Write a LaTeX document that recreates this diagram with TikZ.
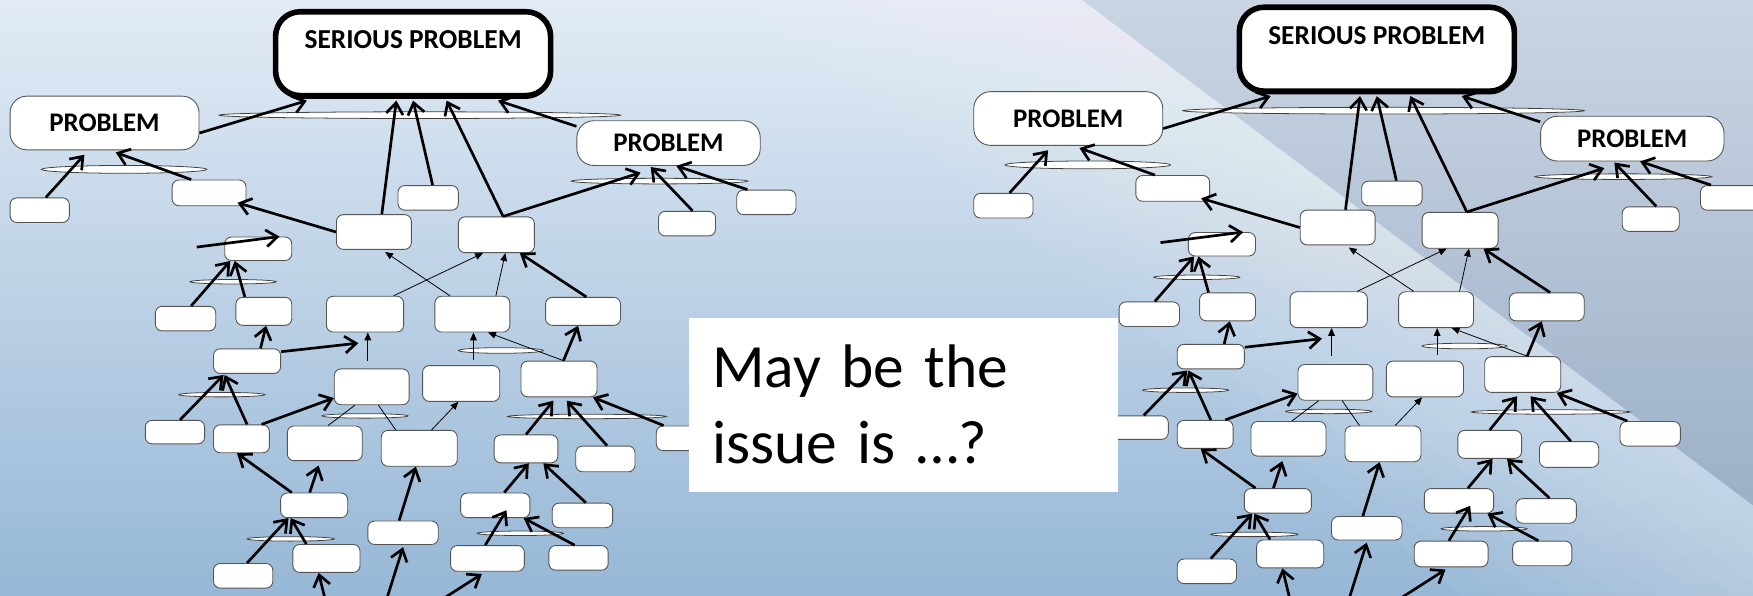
\documentclass[tikz,border=0pt]{standalone}
\usepackage{fontspec}
\setmainfont{Carlito}
\usepackage{xcolor}
\usetikzlibrary{arrows.meta,shapes.geometric,shadows}
\definecolor{bgtop}{RGB}{226,235,245}
\definecolor{bgbottom}{RGB}{150,183,214}
\definecolor{slatetop}{RGB}{202,213,227}
\definecolor{slatebottom}{RGB}{156,176,200}
\definecolor{boxline}{RGB}{85,85,85}

\tikzset{
    premise/.style 2 args={draw=boxline, fill=white, rounded corners=6pt, line width=0.8pt, inner sep=0pt, minimum width=#1, minimum height=#2},
    problem/.style 2 args={premise={#1}{#2}, rounded corners=15pt, font=\fontsize{24}{28}\selectfont\bfseries},
    joint/.style 2 args={ellipse, draw=black!75, fill=white, line width=0.7pt, inner sep=0pt, minimum width=#1, minimum height=#2}
}

\begin{document}
\begin{tikzpicture}[x=1pt, y=-1pt,
    serious/.style={draw=black, fill=white, line width=5pt, rounded corners=22pt, inner sep=0pt, minimum width=246, minimum height=75, text height=16pt, text depth=25pt, font=\fontsize{24.5}{28}\selectfont\bfseries, drop shadow={shadow xshift=0pt, shadow yshift=-3pt, opacity=1, fill=black}},
    support/.style={line width=2.4pt, -{Straight Barb[length=10pt,width=15pt]}},
    weak/.style={line width=0.7pt, -{Triangle[length=7pt,width=6pt]}},
    plain/.style={line width=0.7pt},
    sweep/.style={white, opacity=0.045},
    issuebox/.style={fill=white, inner xsep=21pt, inner ysep=0pt, text width=342pt, minimum height=156, align=left, font=\fontsize{55}{68}\selectfont}
]
\useasboundingbox (0,0) rectangle (1568,533);
\clip (0,0) rectangle (1568,533);

% background
\shade[top color=bgtop, bottom color=bgbottom] (0,0) rectangle (1568,533);
\foreach \w in {20,45,70,95,120,150,180,210,240,270,300} {
    \fill[sweep] (968,0) -- (1568,452) -- (1568,452+\w) -- (968-\w,0) -- cycle;
}
\shade[top color=slatetop, bottom color=slatebottom] (968,0) -- (1568,0) -- (1568,452) -- cycle;

% the same argument map, twice
\foreach \side/\dx/\dy in {L/0/0, R/862/-4} {
\begin{scope}[shift={(\dx,\dy)}, name prefix=\side-]
    % joins
    \node[joint={359}{6}] (j1) at (375.5,103) {};
    \node[joint={148}{7}] (j2) at (111,151.5) {};
    \node[joint={158}{5}] (j3) at (590,162) {};
    \node[joint={77}{4}] (j4) at (208.5,252) {};
    \node[joint={77}{4}] (j5) at (326.5,372) {};
    \node[joint={76}{5}] (j6) at (448,313.5) {};
    \node[joint={142}{4}] (j7) at (525,372.5) {};
    \node[joint={77}{4}] (j8) at (198.5,353) {};
    \node[joint={78}{4}] (j9) at (260,482) {};
    \node[joint={77}{4}] (j10) at (465.5,477) {};

    % claims
    \node[serious] (sp) at (369.5,48) {SERIOUS PROBLEM};
    \node[problem={169}{48}] (pl) at (93.5,110) {PROBLEM};
    \node[problem={164}{40}] (pr) at (598,128) {PROBLEM};

    \node[premise={53}{22}] (b1) at (35.5,188) {};
    \node[premise={66}{23}] (b2) at (187,172.5) {};
    \node[premise={54}{22}] (b3) at (383,177) {};
    \node[premise={67}{31}] (b4) at (334.5,207.5) {};
    \node[premise={68}{32}] (b5) at (444,210) {};
    \node[premise={51}{22}] (b6) at (614.5,200) {};
    \node[premise={53}{22}] (b7) at (685.5,181) {};
    \node[premise={60}{21}] (b8) at (231,222.5) {};

    \node[premise={54}{22}] (c1) at (166,285) {};
    \node[premise={50}{25}] (c2) at (236,278.5) {};
    \node[premise={69}{32}] (c3) at (326.5,281) {};
    \node[premise={67}{32}] (c4) at (422.5,281) {};
    \node[premise={67}{25}] (c5) at (521.5,278.5) {};

    \node[premise={60}{22}] (d1) at (221,323) {};
    \node[premise={67}{32}] (d2) at (332.5,346) {};
    \node[premise={69}{32}] (d3) at (412.5,343) {};
    \node[premise={68}{32}] (d4) at (500,339) {};

    \node[premise={53}{21}] (f1) at (156.5,386.5) {};
    \node[premise={50}{25}] (f2) at (216,392.5) {};
    \node[premise={67}{31}] (f3) at (290.5,396.5) {};
    \node[premise={68}{32}] (f4) at (375,401) {};
    \node[premise={57}{25}] (f5) at (470.5,401.5) {};
    \node[premise={53}{23}] (f6) at (541.5,410.5) {};
    \node[premise={54}{22}] (f7) at (614,392) {};

    \node[premise={60}{22}] (g1) at (281,452) {};
    \node[premise={63}{21}] (g2) at (360.5,476.5) {};
    \node[premise={62}{22}] (g3) at (443,452) {};
    \node[premise={54}{22}] (g4) at (521,461) {};

    \node[premise={53}{22}] (h1) at (217.5,515) {};
    \node[premise={60}{25}] (h2) at (292,499.5) {};
    \node[premise={66}{23}] (h3) at (436,499.5) {};
    \node[premise={53}{22}] (h4) at (517.5,499) {};

    % loose ends
    \coordinate (b8tail) at (176,221);
    \coordinate (tail1) at (293,545);
    \coordinate (tail2) at (343,545);
    \coordinate (tail3) at (381.5,545);

    % into the serious problem
    \draw[support] ([yshift=-9pt]pl.east) -- ([xshift=-95pt,yshift=-2pt]sp.south);
    \draw[support] ([xshift=7pt]b4.north) -- ([xshift=-15pt,yshift=-2pt]sp.south);
    \draw[support] ([xshift=4pt]b3.north) -- ([yshift=-2pt]sp.south);
    \draw[support] ([xshift=6pt]b5.north) -- ([xshift=30pt,yshift=-2pt]sp.south);
    \draw[support] ([yshift=15pt]pr.west) -- ([xshift=76pt,yshift=-2pt]sp.south);
    % into the problems
    \draw[support] ([xshift=6pt]b5.north) -- ([xshift=-25pt,yshift=-6pt]pr.south);
    \draw[support] ([xshift=5pt]b6.north) -- ([xshift=-16pt,yshift=-1pt]pr.south);
    \draw[support] ([xshift=-17pt]b7.north) -- ([xshift=7pt]pr.south);
    \draw[support] ([xshift=-16pt]b2.north) -- ([xshift=10pt,yshift=-2pt]pl.south);
    \draw[support] ([xshift=5.5pt]b1.north) -- ([xshift=-18pt,yshift=-4pt]pl.south);
    \draw[support] (b4.west) -- ([xshift=-8pt,yshift=3pt]b2.south east);
    % middle rows
    \draw[support] (b8tail) -- ([xshift=19pt]b8.north);
    \draw[support] ([xshift=5pt]c1.north) -- ([xshift=-25pt]b8.south);
    \draw[support] ([xshift=-17pt]c2.north) -- ([xshift=-21pt]b8.south);
    \draw[support] ([xshift=3pt]c5.north) -- ([xshift=21pt]b5.south);
    \draw[support] ([xshift=4pt]d4.north) -- ([xshift=-4.5pt]c5.south);
    \draw[support] ([xshift=12pt]d1.north) -- ([xshift=2pt]c2.south);
    \draw[support] ([yshift=-3pt]d1.north east) -- ([xshift=-6pt,yshift=-9.5pt]c3.south);
    \draw[weak] ([xshift=-20pt]c4.north) -- ([xshift=10pt,yshift=-2pt]b4.south);
    \draw[weak] ([xshift=25.5pt]c3.north) -- ([xshift=-12pt]b5.south);
    \draw[weak] ([xshift=21pt]c4.north) -- ([xshift=8pt]b5.south);
    \draw[weak] ([xshift=-3.5pt,yshift=7pt]d2.north) -- ([xshift=2.5pt]c3.south);
    \draw[weak] ([xshift=4pt]d4.north) -- ([xshift=14pt]c4.south);
    \draw[weak] ([xshift=11pt,yshift=5pt]d3.north) -- ([xshift=1pt]c4.south);
    \draw[weak] ([xshift=11pt]f4.north) -- ([xshift=-2.5pt]d3.south);
    \draw[plain] ([xshift=3pt]f3.north) -- ([xshift=-15pt]d2.south);
    \draw[plain] ([xshift=-21pt]f4.north) -- ([xshift=6pt]d2.south);
    \draw[support] ([xshift=4.5pt]f1.north) -- ([xshift=-21pt,yshift=-1pt]d1.south);
    \draw[support] ([xshift=5pt]f2.north) -- ([xshift=-20pt,yshift=-1pt]d1.south);
    \draw[support] ([xshift=18pt]f2.north) -- ([yshift=-10pt]d2.west);
    \draw[support] (f5.north) -- ([xshift=-5pt,yshift=-3pt]d4.south);
    \draw[support] ([xshift=1.5pt]f6.north) -- ([xshift=7pt,yshift=-3pt]d4.south);
    \draw[support] ([xshift=7pt]f7.north west) -- ([xshift=-4pt]d4.south east);
    % lower rows
    \draw[support] ([xshift=-20pt]g1.north) -- ([xshift=-4pt]f2.south);
    \draw[support] ([xshift=-4pt]g1.north) -- ([xshift=-5.5pt,yshift=-4pt]f3.south);
    \draw[support] ([xshift=-3.5pt]g2.north) -- ([xshift=-3pt]f4.south);
    \draw[support] ([xshift=8pt]g3.north) -- ([xshift=2.5pt]f5.south);
    \draw[support] ([xshift=3pt]g4.north) -- ([xshift=15.5pt]f5.south);
    \draw[support] ([xshift=3.5pt]h1.north) -- ([xshift=-23pt]g1.south);
    \draw[support] ([xshift=-18pt]h2.north) -- ([xshift=-21pt]g1.south);
    \draw[support] ([xshift=-2pt]h3.north) -- ([xshift=10pt,yshift=7pt]g3.south);
    \draw[support] ([xshift=-3.5pt]h4.north) -- ([xshift=-6pt]g3.south east);
    \draw[support] (tail1) -- ([xshift=-7pt]h2.south);
    \draw[support] (tail2) -- ([yshift=-2pt]g2.south);
    \draw[support] (tail3) -- ([xshift=-5pt,yshift=-2pt]h3.south);
\end{scope}
}

\node[issuebox] (issue) at (808,362) {May be the\\issue is …?};
\end{tikzpicture}
\end{document}
